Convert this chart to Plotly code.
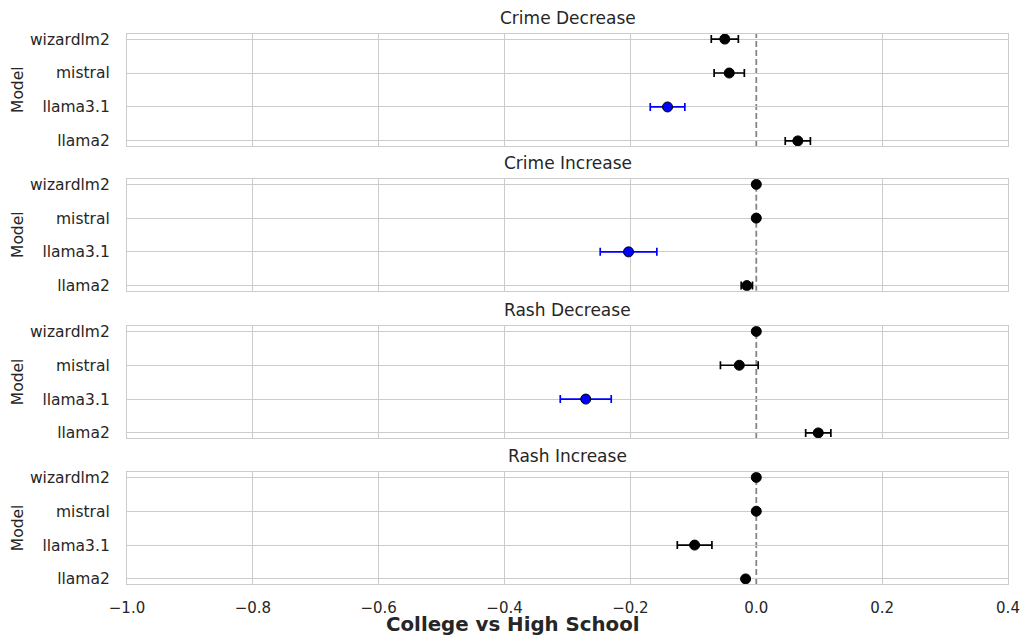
import plotly.graph_objects as go
from plotly.subplots import make_subplots

models = ["llama2", "llama3.1", "mistral", "wizardlm2"]
panel_titles = ["Crime Decrease", "Crime Increase", "Rash Decrease", "Rash Increase"]

crime_dec_mean = [0.066, -0.141, -0.043, -0.050]
crime_dec_err = [0.020, 0.0275, 0.024, 0.0215]
crime_inc_mean = [-0.015, -0.203, 0.0, 0.0]
crime_inc_err = [0.009, 0.045, 0.0, 0.0]
rash_dec_mean = [0.0985, -0.271, -0.027, 0.0]
rash_dec_err = [0.020, 0.0405, 0.030, 0.0]
rash_inc_mean = [-0.017, -0.098, 0.0, 0.0]
rash_inc_err = [0.004, 0.0275, 0.0, 0.0]

# which model is highlighted (blue) in each panel
highlight = [
    [False, True, False, False],
    [False, True, False, False],
    [False, True, False, False],
    [False, False, False, False],
]

x_ticks = [-1.0, -0.8, -0.6, -0.4, -0.2, 0.0, 0.2, 0.4]
ref_x = 0.0
x_label = "College vs High School"
y_label = "Model"

means = [crime_dec_mean, crime_inc_mean, rash_dec_mean, rash_inc_mean]
errs = [crime_dec_err, crime_inc_err, rash_dec_err, rash_inc_err]

TEXT = "#262626"
GRID = "#cccccc"
FONT = "DejaVu Sans"

fig = make_subplots(rows=4, cols=1, shared_xaxes=True)

domains = [[0.7964, 1.0], [0.5333, 0.7358], [0.2655, 0.4685], [0.0, 0.2031]]
grid_vals = [v for v in x_ticks if v != ref_x]

for i in range(4):
    row = i + 1
    for color, flag in (("black", False), ("blue", True)):
        xs, ys, es = [], [], []
        for j, m in enumerate(models):
            if highlight[i][j] == flag:
                xs.append(means[i][j])
                ys.append(m)
                es.append(errs[i][j])
        if not xs:
            continue
        fig.add_trace(
            go.Scatter(
                x=xs, y=ys, mode="markers",
                marker=dict(color=color, size=10, line=dict(color="black", width=1)),
                error_x=dict(type="data", array=es, visible=True, color=color,
                             thickness=1.7, width=4),
                showlegend=False, hoverinfo="skip",
            ),
            row=row, col=1,
        )
    fig.add_vline(x=ref_x, line=dict(color="#858585", width=1.8, dash="6px,3px"),
                  layer="below", row=row, col=1, exclude_empty_subplots=False)

    yname = "yaxis" if i == 0 else f"yaxis{row}"
    xname = "xaxis" if i == 0 else f"xaxis{row}"
    fig.layout[yname].update(
        domain=domains[i], type="category", categoryorder="array", categoryarray=models,
        range=[-0.15, 3.15], showgrid=True, gridcolor=GRID, gridwidth=1,
        showline=True, mirror=True, linecolor=GRID, linewidth=1.3,
        ticks="", ticklabelstandoff=13, zeroline=False, automargin=False,
        tickfont=dict(family=FONT, size=15.5, color=TEXT),
    )
    fig.layout[xname].update(
        range=[-1.0, 0.4], tickvals=x_ticks, tickformat=".1f",
        showgrid=False,
        minor=dict(tickvals=grid_vals, showgrid=True, gridcolor=GRID, gridwidth=1, ticks=""),
        showline=True, mirror=True, linecolor=GRID, linewidth=1.3,
        ticks="", zeroline=False, showticklabels=(row == 4), ticklabelstandoff=10,
        automargin=False,
        tickfont=dict(family=FONT, size=15, color=TEXT),
    )
    yref_dom = "y domain" if i == 0 else f"y{row} domain"
    fig.add_annotation(text=panel_titles[i], xref="paper", x=0.5, yref=yref_dom, y=1.0,
                       yanchor="bottom", yshift=4, showarrow=False,
                       font=dict(family=FONT, size=17, color=TEXT))
    fig.add_annotation(text=y_label, xref="paper", x=(18 - 127) / 881, xanchor="center",
                       yref=yref_dom, y=0.5, yanchor="middle", textangle=-90, showarrow=False,
                       font=dict(family=FONT, size=15.5, color=TEXT))

fig.add_annotation(text=f"<b>{x_label}</b>", xref="paper", x=(513 - 127) / 881, xanchor="center",
                   yref="paper", y=0, yanchor="middle", yshift=-40, showarrow=False,
                   font=dict(family=FONT, size=19.8, color=TEXT))

fig.update_layout(
    width=1026, height=639,
    margin=dict(l=127, r=18, t=34, b=55, autoexpand=False),
    plot_bgcolor="rgba(0,0,0,0)", paper_bgcolor="white",
    font=dict(family=FONT, color=TEXT),
)

fig.write_html("out.html", config={"displayModeBar": False},
               post_script="document.body.style.margin='0';")
